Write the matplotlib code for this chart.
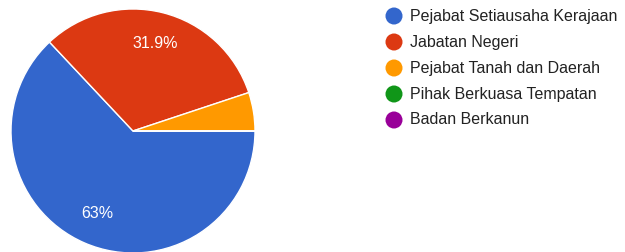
import matplotlib
matplotlib.use("Agg")
import matplotlib.pyplot as plt

# data
categories = ["Pejabat Setiausaha Kerajaan", "Jabatan Negeri",
              "Pejabat Tanah dan Daerah", "Pihak Berkuasa Tempatan",
              "Badan Berkanun"]
shares = [63.0, 31.9, 5.1, 0.0, 0.0]
colors = ["#3366CC", "#DC3912", "#FF9900", "#109618", "#990099"]

plt.rcParams['font.family'] = ['Liberation Sans', 'DejaVu Sans']

W, H = 625, 252
fig = plt.figure(figsize=(W / 100, H / 100), dpi=100)

# pie: center (133,131) px from top-left, radius 122 px
cx, cy, r = 133, 131, 122
ax = fig.add_axes([(cx - r) / W, (H - cy - r) / H, 2 * r / W, 2 * r / H])


def pct_fmt(p):
    if p < 8:
        return ''
    return f"{p:.1f}".rstrip('0').rstrip('.') + '%'


wedges, texts, autotexts = ax.pie(
    shares, colors=colors, startangle=0, counterclock=False,
    radius=1, autopct=pct_fmt, pctdistance=0.74,
    wedgeprops=dict(edgecolor='white', linewidth=1),
    textprops=dict(color='white', fontsize=11.5))
ax.set_xlim(-1, 1)
ax.set_ylim(-1, 1)
ax.set_aspect('equal')
ax.axis('off')

# legend drawn in pixel coordinates
lg = fig.add_axes([0, 0, 1, 1])
lg.set_xlim(0, W)
lg.set_ylim(H, 0)
lg.axis('off')
lg.patch.set_alpha(0)
for i, (name, c) in enumerate(zip(categories, colors)):
    y = 16 + 26 * i
    lg.scatter([394], [y], s=150, color=c, edgecolors='none')
    lg.text(410, y, name, va='center', ha='left', fontsize=11.5, color='#222222')

fig.savefig("out.png", dpi=100)
